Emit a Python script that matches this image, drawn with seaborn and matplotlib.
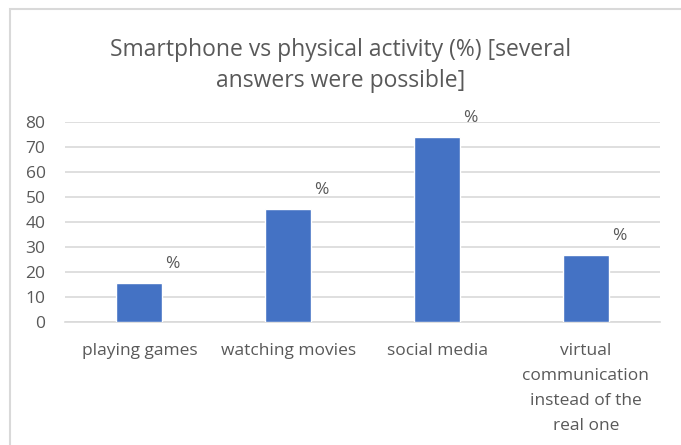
import pandas as pd
import numpy as np
import matplotlib.pyplot as plt
import seaborn as sns
from matplotlib.patches import Rectangle

# Chart data
categories = ['playing games', 'watching movies', 'social media',
              'virtual\ncommunication\ninstead of the\nreal one']
values = [15.4, 45.0, 73.8, 26.6]
label_text = ['%', '%', '%', '%']
y_ticks = [0, 10, 20, 30, 40, 50, 60, 70, 80]

df = pd.DataFrame({'category': categories, 'value': values})

sns.set_theme(style='white')
plt.rcParams['font.family'] = ['Open Sans', 'DejaVu Sans']

text_col = '#595959'
bar_col = '#4472C4'
grid_col = '#D9D9D9'
fs = 12.5

fig = plt.figure(figsize=(6.81, 4.45), dpi=100)
ax = fig.add_axes([0.0955, 0.277, 0.874, 0.449])

sns.barplot(data=df, x='category', y='value', color=bar_col, width=0.31,
            saturation=1, ax=ax, zorder=3)

ax.set_ylim(0, 80)
ax.set_yticks(y_ticks)
ax.set_xlim(-0.5, len(categories) - 0.5)
ax.yaxis.grid(True, color=grid_col, linewidth=1.2, zorder=0)
for s in ['top', 'right', 'left']:
    ax.spines[s].set_visible(False)
ax.spines['bottom'].set_color(grid_col)
ax.spines['bottom'].set_linewidth(1.2)
ax.tick_params(axis='both', length=0, colors=text_col, labelsize=fs)
ax.tick_params(axis='x', pad=15)
ax.tick_params(axis='y', pad=14)
for lab in ax.get_xticklabels():
    lab.set_linespacing(1.76)
ax.set_xlabel('')
ax.set_ylabel('')

# "%" labels above the bars, shifted to the right
for i, (v, t) in enumerate(zip(values, label_text)):
    ax.annotate(t, xy=(i, v), xytext=(33, 19), textcoords='offset pixels',
                ha='center', va='center', fontsize=fs, color=text_col,
                annotation_clip=False)

fig.text(0.5, 0.853, 'Smartphone vs physical activity (%) [several\nanswers were possible]',
         ha='center', va='center', fontsize=16.5, color=text_col, linespacing=1.41)

# chart border like the spreadsheet chart area
fig.patches.append(Rectangle((10 / 681, -0.05), 1.1, 1.05 - 9 / 445,
                             transform=fig.transFigure, fill=False,
                             edgecolor='#D9D9D9', linewidth=1.5))

fig.savefig('out.png', dpi=100)
